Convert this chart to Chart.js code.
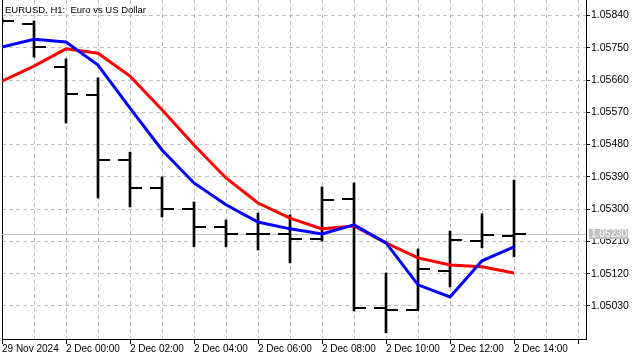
<!DOCTYPE html>
<html>
<head>
<meta charset="utf-8">
<script src="https://cdn.jsdelivr.net/npm/chart.js@4"></script>
<style>
  body { margin: 0; background: #fff; }
  #wrap { width: 640px; height: 360px; position: relative; }
</style>
</head>
<body>
<div id="wrap"><canvas id="chart"></canvas></div>
<script>
// EURUSD H1 bars, 29 Nov 22:00 .. 2 Dec 14:00
const barTimes = ['29 Nov 22:00', '29 Nov 23:00', '2 Dec 00:00', '2 Dec 01:00', '2 Dec 02:00', '2 Dec 03:00',
    '2 Dec 04:00', '2 Dec 05:00', '2 Dec 06:00', '2 Dec 07:00', '2 Dec 08:00', '2 Dec 09:00',
    '2 Dec 10:00', '2 Dec 11:00', '2 Dec 12:00', '2 Dec 13:00', '2 Dec 14:00'];
const opens  = [1.05825, 1.05816, 1.05696, 1.05618, 1.05437, 1.05359, 1.05300, 1.05250, 1.05231, 1.05231, 1.05217, 1.05328, 1.05024, 1.05019, 1.05128, 1.05211, 1.05225];
const highs  = [1.05833, 1.05825, 1.05719, 1.05666, 1.05459, 1.05390, 1.05320, 1.05270, 1.05289, 1.05284, 1.05362, 1.05373, 1.05122, 1.05189, 1.05239, 1.05287, 1.05381];
const lows   = [1.05816, 1.05724, 1.05540, 1.05331, 1.05306, 1.05278, 1.05195, 1.05195, 1.05186, 1.05150, 1.05211, 1.05016, 1.04955, 1.05019, 1.05083, 1.05192, 1.05167];
const closes = [1.05825, 1.05752, 1.05621, 1.05437, 1.05359, 1.05300, 1.05250, 1.05231, 1.05231, 1.05217, 1.05326, 1.05024, 1.05019, 1.05133, 1.05214, 1.05228, 1.05230];

const fastMA = [1.05752, 1.05774, 1.05766, 1.05702, 1.05582, 1.05465, 1.05373, 1.05312, 1.05264, 1.05245, 1.05231, 1.05256, 1.05206, 1.05089, 1.05055, 1.05156, 1.05195];
const slowMA = [1.05657, 1.05699, 1.05747, 1.05735, 1.05671, 1.05577, 1.05479, 1.05387, 1.05317, 1.05275, 1.05245, 1.05253, 1.05206, 1.05164, 1.05144, 1.05139, 1.05122];

const xTickLabels = ['29 Nov 2024', '2 Dec 00:00', '2 Dec 02:00', '2 Dec 04:00', '2 Dec 06:00',
    '2 Dec 08:00', '2 Dec 10:00', '2 Dec 12:00', '2 Dec 14:00'];
const yTicks = [1.05030, 1.05120, 1.05210, 1.05300, 1.05390, 1.05480, 1.05570, 1.05660, 1.05750, 1.05840];
const lastPrice = 1.05230;
const title = 'EURUSD, H1:  Euro vs US Dollar';

const FONT = 'Liberation Sans';

// little open/close ticks used as point images
function makeTick(side) {
    const c = document.createElement('canvas');
    c.width = 24; c.height = 2;
    const g = c.getContext('2d');
    g.fillStyle = '#000';
    if (side === 'open') g.fillRect(0, 0, 13, 2);
    else g.fillRect(11, 0, 13, 2);
    return c;
}
const openTick = makeTick('open');
const closeTick = makeTick('close');

const frame = {
    id: 'frame',
    beforeDatasetsDraw(chart) {
        const { ctx, chartArea: a } = chart;
        ctx.save();
        ctx.strokeStyle = '#000';
        ctx.lineWidth = 1;
        ctx.beginPath();
        ctx.moveTo(a.left + 0.5, a.top);
        ctx.lineTo(a.left + 0.5, a.bottom);
        ctx.stroke();
        // current price line
        const y = Math.round(chart.scales.y.getPixelForValue(lastPrice)) + 0.5;
        ctx.strokeStyle = '#c0c0c0';
        ctx.beginPath();
        ctx.moveTo(a.left, y);
        ctx.lineTo(a.right, y);
        ctx.stroke();
        ctx.restore();
    },
    afterDraw(chart) {
        const { ctx, chartArea: a } = chart;
        const y = Math.round(chart.scales.y.getPixelForValue(lastPrice));
        ctx.save();
        ctx.fillStyle = '#c0c0c0';
        ctx.fillRect(a.right + 3, y - 5, 39, 10);
        ctx.fillStyle = '#fff';
        ctx.font = '10px ' + FONT;
        ctx.textBaseline = 'middle';
        ctx.fillText(lastPrice.toFixed(5), a.right + 5, y);
        ctx.fillStyle = '#000';
        ctx.font = '9.5px ' + FONT;
        ctx.fillText(title, a.left + 3, 10);
        ctx.restore();
    }
};

const idx = barTimes.map((t, i) => i);

new Chart(document.getElementById('chart'), {
    type: 'bar',
    data: {
        datasets: [
            {
                type: 'line',
                label: 'MA fast',
                data: idx.map(i => ({ x: i, y: fastMA[i] })),
                borderColor: '#0000ff',
                borderWidth: 3,
                pointRadius: 0,
                tension: 0,
                order: 0
            },
            {
                type: 'line',
                label: 'MA slow',
                data: idx.map(i => ({ x: i, y: slowMA[i] })),
                borderColor: '#ff0000',
                borderWidth: 3,
                pointRadius: 0,
                tension: 0,
                order: 1
            },
            {
                type: 'line',
                label: 'Open',
                data: idx.map(i => ({ x: i, y: opens[i] })),
                showLine: false,
                pointStyle: openTick,
                pointRadius: 1,
                order: 2
            },
            {
                type: 'line',
                label: 'Close',
                data: idx.map(i => ({ x: i, y: closes[i] })),
                showLine: false,
                pointStyle: closeTick,
                pointRadius: 1,
                order: 2
            },
            {
                label: 'High-Low',
                data: idx.map(i => ({ x: i, y: [lows[i], highs[i]] })),
                backgroundColor: '#000',
                barThickness: 2,
                order: 3
            }
        ]
    },
    options: {
        responsive: true,
        maintainAspectRatio: false,
        animation: false,
        events: [],
        layout: { autoPadding: false, padding: { left: 2, top: 0, right: 0, bottom: 0 } },
        plugins: {
            legend: { display: false },
            tooltip: { enabled: false }
        },
        scales: {
            x: {
                type: 'linear',
                min: 0,
                max: 18.25,
                offset: false,
                afterBuildTicks: (scale) => {
                    const t = [];
                    for (let i = 0; i <= 18; i++) t.push({ value: i });
                    scale.ticks = t;
                },
                afterFit: (scale) => {
                    scale.height = 21;
                    scale.paddingLeft = 0;
                    scale.paddingRight = 0;
                },
                grid: {
                    offset: false,
                    color: '#c0c0c0',
                    tickColor: (c) => (c.index % 2 === 0 ? '#000' : 'rgba(0,0,0,0)'),
                    tickLength: 5,
                    tickBorderDash: []
                },
                border: { display: true, color: '#000', width: 1, dash: [4, 3] },
                ticks: {
                    autoSkip: false,
                    maxRotation: 0,
                    align: 'start',
                    padding: -1,
                    color: '#000',
                    font: { family: FONT, size: 10 },
                    callback: (v, i) => (i % 2 === 0 ? (xTickLabels[i / 2] || '') : '')
                }
            },
            y: {
                position: 'right',
                min: 1.049378,
                max: 1.058833,
                afterBuildTicks: (scale) => {
                    scale.ticks = yTicks.map(v => ({ value: v }));
                },
                afterFit: (scale) => {
                    scale.width = 54;
                    scale.paddingTop = 0;
                    scale.paddingBottom = 0;
                },
                grid: {
                    color: '#c0c0c0',
                    tickColor: '#000',
                    tickLength: 4,
                    tickBorderDash: []
                },
                border: { display: true, color: '#000', width: 1, dash: [4, 3] },
                ticks: {
                    padding: 1,
                    color: '#000',
                    font: { family: FONT, size: 10.5 },
                    callback: (v) => Number(v).toFixed(5)
                }
            }
        }
    },
    plugins: [frame]
});
</script>
</body>
</html>
